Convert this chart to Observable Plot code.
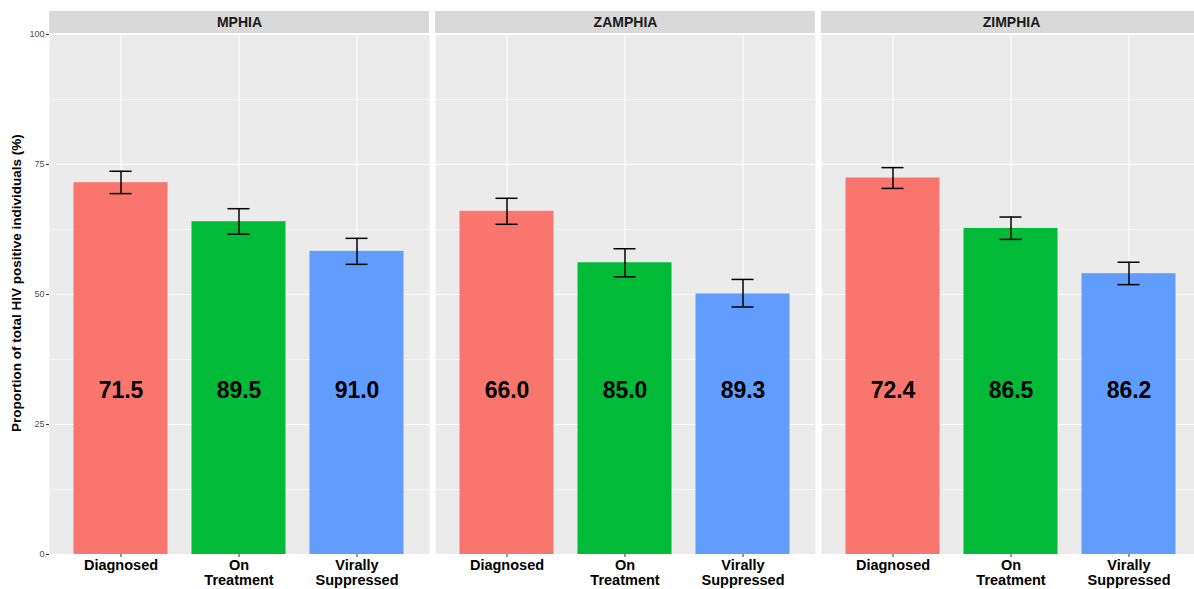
<!DOCTYPE html>
<html><head><meta charset="utf-8">
<script src="https://cdn.jsdelivr.net/npm/d3@7"></script>
<script src="https://cdn.jsdelivr.net/npm/@observablehq/plot@0.6"></script>
<style>
body{margin:0;overflow:hidden;background:#fff;font-family:"Liberation Sans",Arial,sans-serif}
#chart{width:1194px;height:589px;overflow:hidden}
</style>
</head><body><div id="chart"></div>
<script>
const surveys = ["MPHIA", "ZAMPHIA", "ZIMPHIA"];
const stages = ["Diagnosed", "On Treatment", "Virally Suppressed"];
const stageTickLabels = ["Diagnosed", "On\nTreatment", "Virally\nSuppressed"];
const colors = ["#F8766D", "#00BA38", "#619CFF"];

// bar heights (% of all HIV positive)
const mphiaValues   = [71.5, 64.0, 58.3];
const zamphiaValues = [66.0, 56.1, 50.1];
const zimphiaValues = [72.4, 62.7, 54.0];
// error bar bounds
const mphiaLower   = [69.4, 61.6, 55.8];
const mphiaUpper   = [73.7, 66.5, 60.8];
const zamphiaLower = [63.5, 53.4, 47.6];
const zamphiaUpper = [68.5, 58.8, 52.9];
const zimphiaLower = [70.4, 60.6, 51.9];
const zimphiaUpper = [74.4, 64.9, 56.2];
// printed labels
const mphiaLabels   = ["71.5", "89.5", "91.0"];
const zamphiaLabels = ["66.0", "85.0", "89.3"];
const zimphiaLabels = ["72.4", "86.5", "86.2"];

const majorTicks = [0, 25, 50, 75, 100];
const minorTicks = [12.5, 37.5, 62.5, 87.5];
const yTitle = "Proportion of total HIV positive individuals (%)";

const series = [
  [mphiaValues, mphiaLower, mphiaUpper, mphiaLabels],
  [zamphiaValues, zamphiaLower, zamphiaUpper, zamphiaLabels],
  [zimphiaValues, zimphiaLower, zimphiaUpper, zimphiaLabels]
];
const rows = [];
surveys.forEach((s, i) => {
  const [v, lo, hi, lab] = series[i];
  stages.forEach((st, j) => rows.push({survey: s, stage: st, value: v[j], lower: lo[j], upper: hi[j], label: lab[j]}));
});

const font = "Liberation Sans, Arial, sans-serif";
const chart = Plot.plot({
  width: 1202, height: 589,
  marginLeft: 48.5, marginRight: 0.5, marginTop: 34, marginBottom: 35,
  style: {fontFamily: font, background: "white", overflow: "visible", maxWidth: "none"},
  fx: {domain: surveys, paddingInner: 0.0143, paddingOuter: 0, axis: null, label: null},
  x: {domain: stages, paddingInner: 0.2, paddingOuter: 0.2, label: null, axis: null},
  y: {domain: [0, 100], label: null, axis: null},
  color: {domain: stages, range: colors},
  marks: [
    Plot.frame({fill: "#ebebeb", stroke: null}),
    Plot.gridY(minorTicks, {stroke: "white", strokeOpacity: 1, strokeWidth: 0.55}),
    Plot.gridY(majorTicks, {stroke: "white", strokeOpacity: 1, strokeWidth: 1.1}),
    Plot.gridX(stages, {stroke: "white", strokeOpacity: 1, strokeWidth: 1.1}),
    Plot.barY(rows, {fx: "survey", x: "stage", y: "value", fill: "stage"}),
    Plot.ruleX(rows, {fx: "survey", x: "stage", y1: "lower", y2: "upper", stroke: "black", strokeWidth: 1.5}),
    Plot.tickY(rows, {fx: "survey", x: "stage", y: "lower", inset: 36, stroke: "black", strokeWidth: 1.5}),
    Plot.tickY(rows, {fx: "survey", x: "stage", y: "upper", inset: 36, stroke: "black", strokeWidth: 1.5}),
    Plot.text(rows, {fx: "survey", x: "stage", y: () => 31.5, text: "label", fontSize: 23, fontWeight: "bold", fill: "black"}),
    Plot.rect(surveys, {fx: d => d, y1: () => 100.19, y2: () => 104.42, fill: "#d9d9d9"}),
    Plot.text(surveys, {fx: d => d, y: () => 102.3, frameAnchor: "middle", text: d => d, fontSize: 14, fontWeight: "bold", fill: "#1a1a1a"}),
    Plot.axisY({ticks: majorTicks, tickSize: 3, tickPadding: 2, fontSize: 9, fill: "#4d4d4d", stroke: "#333", label: null}),
    Plot.text([yTitle], {fx: () => "MPHIA", frameAnchor: "left", textAnchor: "middle", y: () => 52.2, dx: -32.5, rotate: -90, text: d => d, fontSize: 13.5, fontWeight: "bold", fill: "black"}),
    Plot.axisX({tickSize: 3, tickPadding: 2.5, stroke: "#333", fill: "black", fontSize: 14.5, fontWeight: "bold", lineHeight: 1.0,
      tickFormat: d => stageTickLabels[stages.indexOf(d)], label: null})
  ]
});
document.getElementById("chart").append(chart);
</script>
</body></html>
